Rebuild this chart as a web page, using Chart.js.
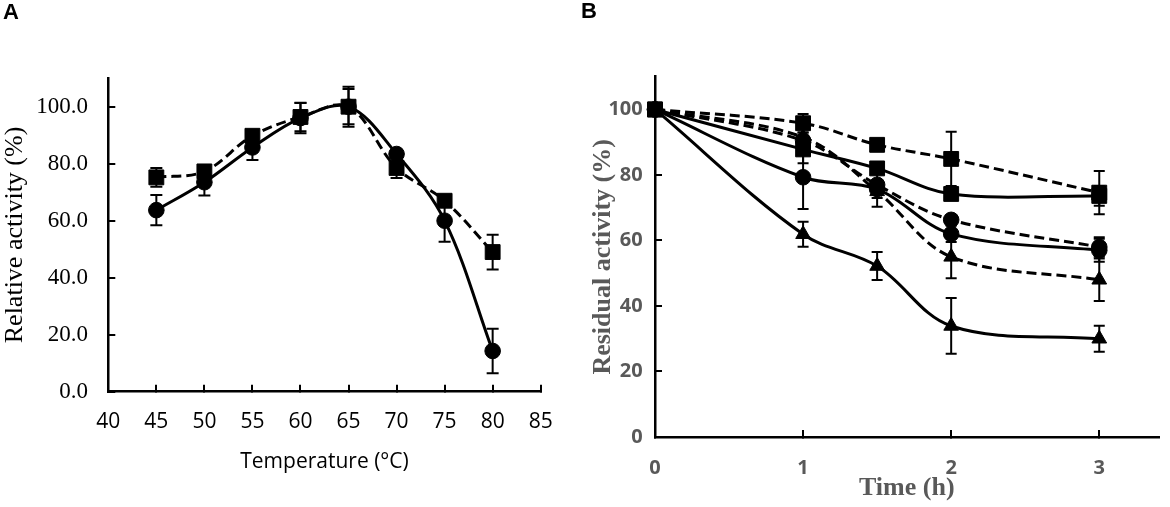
<!DOCTYPE html>
<html><head><meta charset="utf-8">
<script src="https://cdn.jsdelivr.net/npm/chart.js@4.4.1/dist/chart.umd.min.js"></script>
<style>
html,body{margin:0;padding:0;background:#fff;width:1170px;height:507px;overflow:hidden;}
#wa{position:absolute;left:0;top:0;width:585px;height:507px;}
#wb{position:absolute;left:585px;top:0;width:585px;height:507px;}
.lbl{position:absolute;font-family:'Liberation Sans',Arial,sans-serif;font-weight:bold;font-size:22px;line-height:1;color:#000;}
</style></head><body>
<div id="wa"><canvas id="ca" width="585" height="507"></canvas></div>
<div id="wb"><canvas id="cb" width="585" height="507"></canvas></div>
<div class="lbl" style="left:3px;top:1px">A</div>
<div class="lbl" style="left:581px;top:0px">B</div>
<script>
// ---------- Panel A data ----------
const tempsA   = [45, 50, 55, 60, 65, 70, 75, 80];
const circA    = [63.7, 73.5, 85.7, 96.0, 100.0, 83.4, 60.0, 14.3];
const circErrA = [5.3, 4.7, 4.4, 5.3, 7.0, 1.5, 7.4, 7.8];
const sqA      = [75.2, 77.3, 89.8, 96.4, 100.0, 78.5, 67.0, 49.0];
const sqErrA   = [3.3, 2.0, 2.0, 5.0, 6.2, 3.5, 2.0, 6.1];
const xTicksA  = [40, 85, 5];   // min, max, step
const yTicksA  = [0, 110, 20];

// ---------- Panel B data ----------
const timesB       = [0, 1, 1.5, 2, 3];
const sqDashB      = [100, 95.8, 89.2, 84.9, 74.6];
const sqDashErrB   = [0, 2.8, 0.6, 8.3, 6.6];
const sqSolidB     = [100, 87.8, 82.0, 74.2, 73.6];
const sqSolidErrB  = [0, 4.2, 0.8, 1.0, 3.0];
const cirSolidB    = [100, 79.3, 75.7, 62.0, 57.0];
const cirSolidErrB = [0, 9.7, 5.4, 2.5, 3.5];
const cirDashB     = [100, 90.5, 77.0, 66.3, 58.0];
const cirDashErrB  = [0, 1.5, 1.5, 1.5, 3.0];
const triDashB     = [100, 91.5, 75.0, 55.0, 48.0];
const triDashErrB  = [0, 1.5, 2.0, 6.5, 6.5];
const triSolidB    = [100, 61.9, 52.2, 33.9, 30.0];
const triSolidErrB = [0, 3.8, 4.3, 8.5, 4.0];
const xTicksB = [0, 3.4, 1];
const yTicksB = [0, 110, 20];

const pts = (xs, ys) => xs.map((x, i) => ({x: x, y: ys[i]}));

const errorBars = {
  id: 'errorBars',
  afterDatasetsDraw(chart, args, opts) {
    const ctx = chart.ctx, xs = chart.scales.x, ys = chart.scales.y;
    ctx.save();
    ctx.strokeStyle = '#000';
    ctx.lineWidth = opts.width || 2;
    chart.data.datasets.forEach(ds => {
      if (!ds.errors) return;
      ds.data.forEach((p, i) => {
        const e = ds.errors[i];
        if (!e) return;
        const px = xs.getPixelForValue(p.x);
        const t = ys.getPixelForValue(p.y + e), b = ys.getPixelForValue(p.y - e);
        const c = opts.cap || 6;
        ctx.beginPath();
        ctx.moveTo(px, t); ctx.lineTo(px, b);
        ctx.moveTo(px - c, t); ctx.lineTo(px + c, t);
        ctx.moveTo(px - c, b); ctx.lineTo(px + c, b);
        ctx.stroke();
      });
    });
    ctx.restore();
  }
};

function ds(data, errs, style, dashed, radius) {
  return {
    data: data, errors: errs, pointStyle: style, pointRadius: radius,
    pointBackgroundColor: '#000', pointBorderColor: '#000', pointBorderWidth: 1,
    borderColor: '#000', borderWidth: 3, borderDash: dashed ? [10, 5] : [],
    tension: 0.35, fill: false, clip: false, showLine: true
  };
}

function axisCommon() {
  return {
    grid: {drawOnChartArea: false, drawTicks: true, tickLength: -7, color: '#000', lineWidth: 2},
    border: {display: true, color: '#000', width: 2.5}
  };
}

// ---------- Chart A ----------
new Chart(document.getElementById('ca'), {
  type: 'scatter',
  data: {datasets: [
    ds(pts(tempsA, sqA), sqErrA, 'rect', true, 10.5),
    ds(pts(tempsA, circA), circErrA, 'circle', false, 7.8)
  ]},
  plugins: [errorBars],
  options: {
    responsive: false, animation: false, devicePixelRatio: 1,
    layout: {padding: {left: 0, right: 44.3, top: 78.2, bottom: 0}},
    plugins: {legend: {display: false}, tooltip: {enabled: false}, errorBars: {cap: 6, width: 2}},
    scales: {
      x: Object.assign(axisCommon(), {
        type: 'linear', min: xTicksA[0], max: xTicksA[1],
        afterFit(s) { s.height = 115.3; },
        ticks: {stepSize: xTicksA[2], includeBounds: false, padding: 25, color: '#000',
                font: {family: 'Open Sans', size: 21}, maxRotation: 0, autoSkip: false},
        title: {display: true, text: 'Temperature (°C)', color: '#000',
                font: {family: 'Open Sans', size: 21}, padding: {top: 0, bottom: 32}}
      }),
      y: Object.assign(axisCommon(), {
        type: 'linear', min: yTicksA[0], max: yTicksA[1],
        afterFit(s) { s.width = 108.3; },
        ticks: {stepSize: yTicksA[2], includeBounds: false, padding: 27.3, color: '#000',
                font: {family: 'Liberation Serif', size: 23}, callback: v => v.toFixed(1)},
        title: {display: true, text: 'Relative activity (%)', color: '#000',
                font: {family: 'Liberation Serif', size: 26}, padding: {top: 0, bottom: 0}}
      })
    }
  }
});

// ---------- Chart B ----------
new Chart(document.getElementById('cb'), {
  type: 'scatter',
  data: {datasets: [
    ds(pts(timesB, sqDashB), sqDashErrB, 'rect', true, 10.5),
    ds(pts(timesB, sqSolidB), sqSolidErrB, 'rect', false, 10.5),
    ds(pts(timesB, cirSolidB), cirSolidErrB, 'circle', false, 7.8),
    ds(pts(timesB, cirDashB), cirDashErrB, 'circle', true, 7.8),
    ds(pts(timesB, triDashB), triDashErrB, 'triangle', true, 8.5),
    ds(pts(timesB, triSolidB), triSolidErrB, 'triangle', false, 8.5)
  ]},
  plugins: [errorBars],
  options: {
    responsive: false, animation: false, devicePixelRatio: 1,
    layout: {padding: {left: 0, right: 5, top: 76.7, bottom: 0}},
    plugins: {legend: {display: false}, tooltip: {enabled: false}, errorBars: {cap: 5.5, width: 2}},
    scales: {
      x: Object.assign(axisCommon(), {
        type: 'linear', min: xTicksB[0], max: xTicksB[1],
        afterFit(s) { s.height = 70; },
        ticks: {stepSize: xTicksB[2], includeBounds: false, padding: 26, color: '#595959',
                font: {family: 'Open Sans', size: 20, weight: 'bold'}, maxRotation: 0, autoSkip: false},
        title: {display: true, text: 'Time (h)', color: '#595959',
                font: {family: 'Liberation Serif', size: 26, weight: 'bold'}, padding: {top: 0, bottom: 3.4}}
      }),
      y: Object.assign(axisCommon(), {
        type: 'linear', min: yTicksB[0], max: yTicksB[1],
        afterFit(s) { s.width = 70; },
        ticks: {stepSize: yTicksB[2], includeBounds: false, padding: 19.3, color: '#595959',
                font: {family: 'Open Sans', size: 20, weight: 'bold'}},
        title: {display: true, text: 'Residual activity (%)', color: '#595959',
                font: {family: 'Liberation Serif', size: 26, weight: 'bold'}, padding: {top: 2.4, bottom: 0}}
      })
    }
  }
});
</script>
</body></html>
